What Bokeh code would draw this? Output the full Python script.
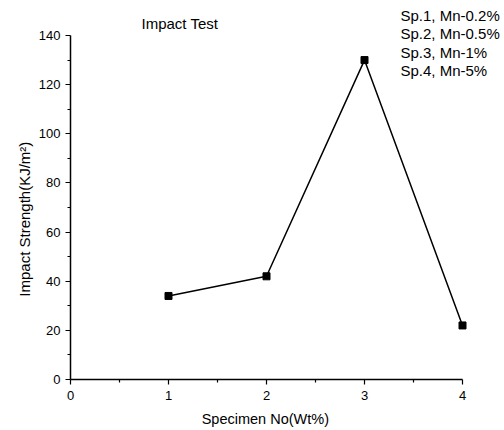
from bokeh.plotting import figure
from bokeh.models import Range1d, FixedTicker, Label
from bokeh.embed import file_html
from bokeh.resources import INLINE

specimen = [1, 2, 3, 4]
strength = [34, 42, 130, 22]
x_ticks = [0, 1, 2, 3, 4]
y_ticks = [0, 20, 40, 60, 80, 100, 120, 140]
notes = ["Sp.1, Mn-0.2%", "Sp.2, Mn-0.5%", "Sp.3, Mn-1%", "Sp.4, Mn-5%"]
title_text = "Impact Test"
x_label = "Specimen No(Wt%)"
y_label = "Impact Strength(KJ/m²)"

FONT = "Liberation Sans"
NB = "\u00a0"

# axes span 0..4 and 0..140; the drawing area is extended so that the
# title and notes (which sit outside the axes) are not clipped
X_END = 430 / 98.0
Y_END = 379 / (344 / 140.0)

p = figure(width=500, height=430, output_backend="svg", toolbar_location=None,
           x_range=Range1d(0, X_END), y_range=Range1d(0, Y_END),
           min_border_left=70, min_border_top=0, min_border_right=0, min_border_bottom=51)
p.outline_line_color = None
p.xgrid.visible = False
p.ygrid.visible = False
p.background_fill_color = "white"
p.border_fill_color = "white"

p.line(specimen, strength, line_color="black", line_width=1.5)
p.scatter(specimen, strength, marker="square", size=7, fill_color="black", line_color="black")

for ax, ticks, minor in ((p.xaxis[0], x_ticks, [0.5, 1.5, 2.5, 3.5]),
                         (p.yaxis[0], y_ticks, [10, 30, 50, 70, 90, 110, 130])):
    ax.ticker = FixedTicker(ticks=ticks, minor_ticks=minor)
    ax.bounds = (ticks[0], ticks[-1])
    ax.axis_line_width = 1.5
    ax.major_tick_line_width = 1.2
    ax.minor_tick_line_width = 1.2
    ax.major_tick_out = 5
    ax.major_tick_in = 0
    ax.minor_tick_out = 3
    ax.minor_tick_in = 0
    ax.major_label_text_font = FONT
    ax.major_label_text_font_size = "13px"
    ax.major_label_text_color = "black"
    ax.axis_label_text_font = FONT
    ax.axis_label_text_font_style = "normal"
    ax.axis_label_text_color = "black"

# non-breaking padding keeps the axis titles centred on the axes, not the wider drawing area
p.xaxis.axis_label = x_label + NB * 10
p.yaxis.axis_label = y_label + NB * 14
p.xaxis.axis_label_text_font_size = "14.5px"
p.yaxis.axis_label_text_font_size = "15px"
p.xaxis.major_label_standoff = 6
p.xaxis.axis_label_standoff = 8
p.yaxis.major_label_standoff = 5
p.yaxis.axis_label_standoff = 3

p.add_layout(Label(x=141, y=23, x_units="canvas", y_units="canvas", text=title_text,
                   text_font=FONT, text_font_size="15px",
                   text_align="left", text_baseline="alphabetic", text_color="black"))
for i, t in enumerate(notes):
    p.add_layout(Label(x=400, y=15 + i * 18.33, x_units="canvas", y_units="canvas", text=t,
                       text_font=FONT, text_font_size="15px",
                       text_align="left", text_baseline="alphabetic", text_color="black"))

open("out.html", "w").write(file_html(p, INLINE))
